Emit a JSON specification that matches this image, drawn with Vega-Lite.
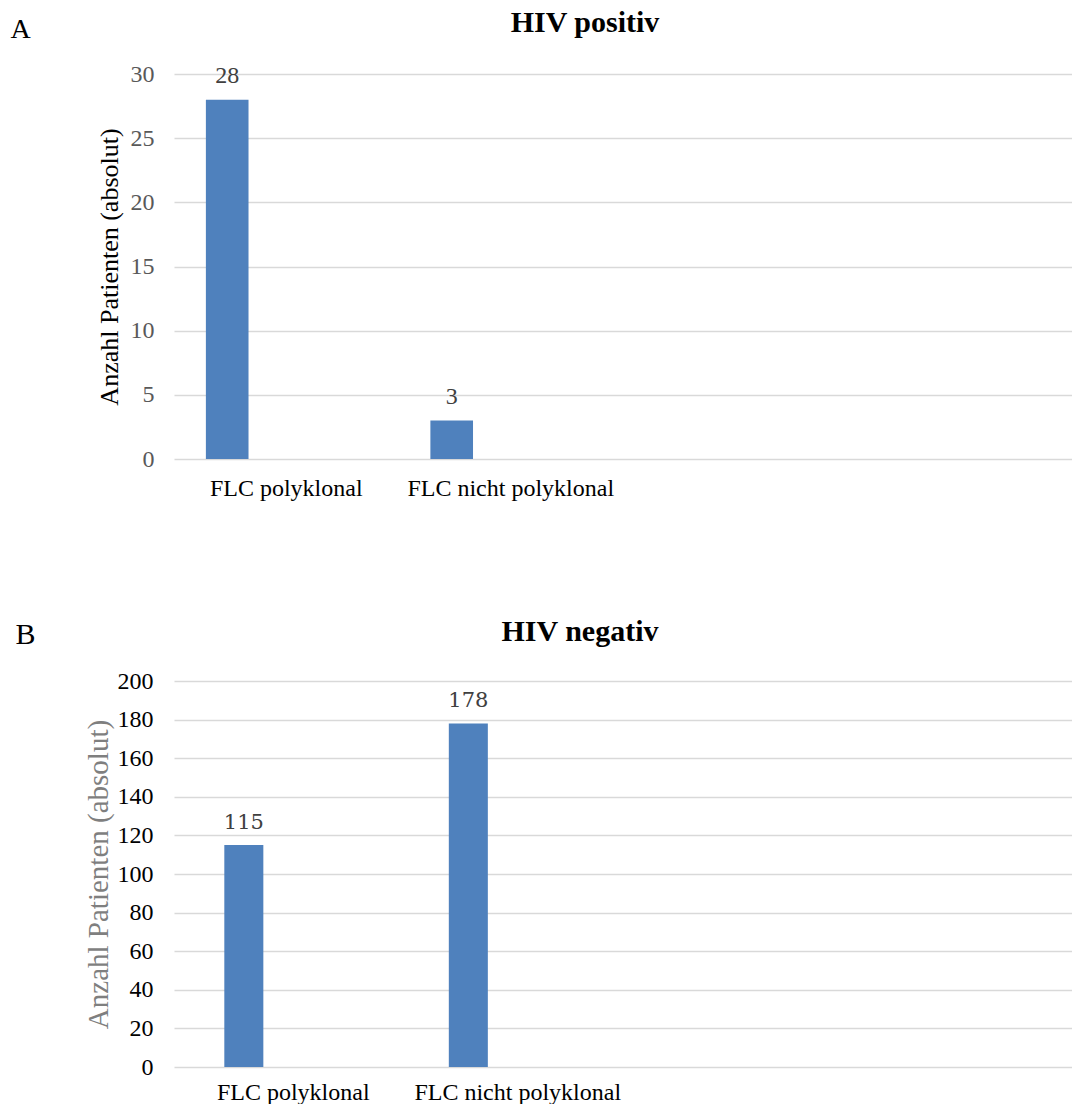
{
  "$schema": "https://vega.github.io/schema/vega-lite/v6.json",
  "background": "white",
  "padding": {"left": 10, "top": 8, "right": 0, "bottom": 0},
  "config": {"view": {"stroke": null}},
  "spacing": 117,
  "resolve": {"scale": {"xOffset": "independent", "x": "independent", "y": "independent"}},
  "vconcat": [
    {
      "width": 898,
      "height": 385,
      "title": {"text": "HIV positiv", "frame": "group", "anchor": "middle", "dx": -38, "fontSize": 30, "font": "Liberation Serif", "fontWeight": "bold", "color": "black", "baseline": "alphabetic", "offset": -47},
      "data": {"values": [
        {"kat": "FLC polyklonal", "serie": "a", "anzahl": 28},
        {"kat": "FLC nicht polyklonal", "serie": "a", "anzahl": 3}
      ]},
      "encoding": {
        "y": {"field": "anzahl", "type": "quantitative", "scale": {"domain": [0, 30]},
          "axis": {"values": [0, 5, 10, 15, 20, 25, 30], "title": "Anzahl Patienten (absolut)", "titleFont": "Liberation Serif", "titleFontSize": 26, "titleFontWeight": "normal", "titleColor": "black", "titlePadding": 8,
            "labelFont": "Liberation Serif", "labelFontSize": 24, "labelColor": "#595959", "labelPadding": 20, "ticks": false, "domain": false, "grid": true, "gridColor": "#d9d9d9", "gridWidth": 1.5}},
        "xOffset": {"field": "serie", "type": "nominal", "scale": {"domain": ["a", "b"], "paddingInner": 0.639, "paddingOuter": 0.27}}
      },
      "layer": [
        {
          "mark": {"type": "bar", "color": "#4f81bd"},
          "encoding": {
            "x": {"field": "kat", "type": "nominal", "sort": null,
              "scale": {"domain": ["FLC polyklonal", "FLC nicht polyklonal", " ", "  "], "paddingInner": 0, "paddingOuter": 0},
              "axis": {"orient": "bottom", "title": null, "domain": false, "ticks": false, "grid": false, "labelAngle": 0, "labelLimit": 400, "labelFont": "Liberation Serif", "labelFontSize": 24, "labelColor": "black", "labelPadding": 17}}
          }
        },
        {
          "mark": {"type": "text", "dy": -17, "baseline": "alphabetic", "font": "Liberation Serif", "fontSize": 24, "color": "#404040"},
          "encoding": {
            "x": {"field": "kat", "type": "nominal", "sort": null,
              "axis": {"orient": "top", "title": "A", "labels": false, "ticks": false, "domain": false, "grid": false, "titleX": -164, "titleY": -37, "titleAngle": 0, "titleAlign": "left", "titleBaseline": "alphabetic", "titleFont": "Liberation Serif", "titleFontSize": 28, "titleFontWeight": "normal", "titleColor": "black"}},
            "text": {"field": "anzahl", "type": "quantitative"}
          }
        }
      ],
      "resolve": {"axis": {"x": "independent"}}
    },
    {
      "width": 898,
      "height": 386,
      "title": {"text": "HIV negativ", "frame": "group", "anchor": "middle", "dx": -43, "fontSize": 30, "font": "Liberation Serif", "fontWeight": "bold", "color": "black", "baseline": "alphabetic", "offset": -52},
      "data": {"values": [
        {"kat": "FLC polyklonal", "serie": "a", "anzahl": 115},
        {"kat": "FLC nicht polyklonal", "serie": "a", "anzahl": 178}
      ]},
      "encoding": {
        "y": {"field": "anzahl", "type": "quantitative", "scale": {"domain": [0, 200]},
          "axis": {"values": [0, 20, 40, 60, 80, 100, 120, 140, 160, 180, 200], "title": "Anzahl Patienten (absolut)", "titleFont": "Liberation Serif", "titleFontSize": 29, "titleFontWeight": "normal", "titleColor": "#7f7f7f", "titlePadding": 4,
            "labelFont": "Liberation Serif", "labelFontSize": 24, "labelColor": "black", "labelPadding": 21, "ticks": false, "domain": false, "grid": true, "gridColor": "#d9d9d9", "gridWidth": 1.5}},
        "xOffset": {"field": "serie", "type": "nominal", "scale": {"domain": ["a", "b"], "paddingInner": 0.54, "paddingOuter": 0.593}}
      },
      "layer": [
        {
          "mark": {"type": "bar", "color": "#4f81bd"},
          "encoding": {
            "x": {"field": "kat", "type": "nominal", "sort": null,
              "scale": {"domain": ["FLC polyklonal", "FLC nicht polyklonal", " ", "  "], "paddingInner": 0, "paddingOuter": 0},
              "axis": {"orient": "bottom", "title": null, "domain": false, "ticks": false, "grid": false, "labelAngle": 0, "labelLimit": 400, "labelOffset": 7, "labelFont": "Liberation Serif", "labelFontSize": 24, "labelColor": "black", "labelPadding": 13}}
          }
        },
        {
          "mark": {"type": "text", "dy": -16, "baseline": "alphabetic", "font": "DejaVu Serif", "fontSize": 21, "color": "#404040"},
          "encoding": {
            "x": {"field": "kat", "type": "nominal", "sort": null,
              "axis": {"orient": "top", "title": "B", "labels": false, "ticks": false, "domain": false, "grid": false, "titleX": -159, "titleY": -38, "titleAngle": 0, "titleAlign": "left", "titleBaseline": "alphabetic", "titleFont": "Liberation Serif", "titleFontSize": 30, "titleFontWeight": "normal", "titleColor": "black"}},
            "text": {"field": "anzahl", "type": "quantitative"}
          }
        }
      ],
      "resolve": {"axis": {"x": "independent"}}
    }
  ]
}
